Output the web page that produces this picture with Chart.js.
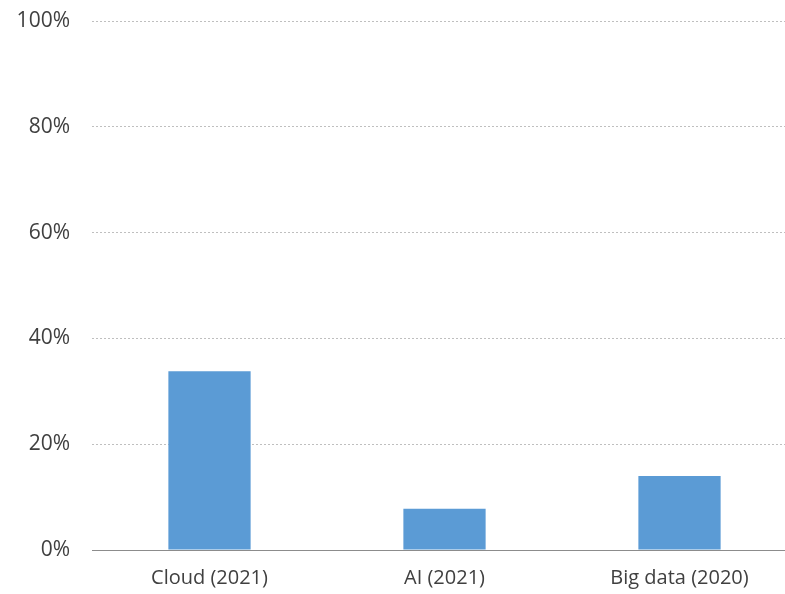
<!DOCTYPE html>
<html>
<head>
<meta charset="utf-8">
<script src="https://cdn.jsdelivr.net/npm/chart.js@4"></script>
<style>
  html, body { margin: 0; padding: 0; background: #fff; overflow: hidden; }
  #wrap { width: 785px; height: 594px; overflow: hidden; }
</style>
</head>
<body>
<div id="wrap"><canvas id="chart" width="797" height="594"></canvas></div>
<script>
"use strict";

const categories = ['Cloud (2021)', 'AI (2021)', 'Big data (2020)'];
const shares = [33.8, 7.8, 14.0];
const yTicks = [0, 20, 40, 60, 80, 100];

const ctx = document.getElementById('chart').getContext('2d');
const chart = new Chart(ctx, {
    type: 'bar',
    data: {
        labels: categories,
        datasets: [{
            data: shares,
            backgroundColor: '#5B9BD5',
            borderWidth: 0,
            barPercentage: 0.35,
            categoryPercentage: 1
        }]
    },
    options: {
        responsive: false,
        animation: false,
        layout: { padding: { top: 21, right: 0, left: 0, bottom: 0 } },
        scales: {
            x: {
                offset: true,
                grid: { display: false, drawTicks: false },
                border: { display: true, color: '#8c8c8c', width: 1 },
                ticks: {
                    color: '#404040',
                    padding: 16,
                    font: { family: 'Open Sans', size: 20 }
                },
                afterFit: (s) => { s.height = 44; s.paddingLeft = 0; s.paddingRight = 0; }
            },
            y: {
                min: 0,
                max: 100,
                afterBuildTicks: (s) => { s.ticks = yTicks.map(v => ({ value: v })); },
                grid: { color: '#bfbfbf', drawTicks: false, lineWidth: 1 },
                border: { display: false, dash: [2, 2] },
                ticks: {
                    color: '#404040',
                    padding: 22,
                    font: { family: 'Open Sans', size: 21 },
                    callback: (v) => v + '%'
                },
                afterFit: (s) => { s.width = 92; s.paddingTop = 0; s.paddingBottom = 0; }
            }
        },
        plugins: {
            legend: { display: false },
            tooltip: { enabled: false }
        }
    }
});
</script>
</body>
</html>
